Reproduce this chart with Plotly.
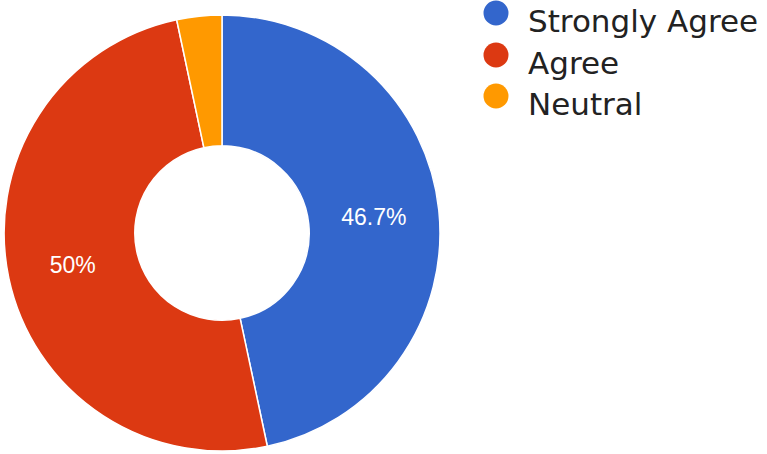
import plotly.graph_objects as go

categories = ["Strongly Agree", "Agree", "Neutral"]
values = [14, 15, 1]
colors = ["#3366CC", "#DC3912", "#FF9900"]
label_templates = ["%{percent}", "%{percent}", ""]

W, H = 767, 454

fig = go.Figure()
fig.add_trace(go.Pie(
    labels=categories,
    values=values,
    hole=0.4,
    sort=False,
    direction="clockwise",
    rotation=0,
    marker=dict(colors=colors, line=dict(color="white", width=1.5)),
    texttemplate=label_templates,
    textposition="inside",
    insidetextorientation="horizontal",
    textfont=dict(family="Liberation Sans, Arial, sans-serif", size=23, color="white"),
    showlegend=False,
    hoverinfo="label+percent",
    domain=dict(x=[3.5 / W, 440.5 / W], y=[1 - 451 / H, 1 - 15 / H]),
))

# custom legend with circle markers
cx, r = 496, 12.5
ys = [13, 55, 96]
shapes = []
annotations = []
for name, col, yc in zip(categories, colors, ys):
    shapes.append(dict(
        type="circle", xref="paper", yref="paper",
        x0=(cx - r) / W, x1=(cx + r) / W,
        y0=1 - (yc + r) / H, y1=1 - (yc - r) / H,
        fillcolor=col, line=dict(width=0),
    ))
    annotations.append(dict(
        text=name, xref="paper", yref="paper",
        x=526 / W, y=1 - (yc + 8) / H, xanchor="left", yanchor="middle",
        showarrow=False,
        font=dict(family="DejaVu Sans", size=31, color="#222222"),
    ))

fig.update_layout(
    width=W, height=H,
    margin=dict(l=0, r=0, t=0, b=0),
    paper_bgcolor="white",
    plot_bgcolor="white",
    shapes=shapes,
    annotations=annotations,
)

fig.write_html(
    "out.html",
    config={"displayModeBar": False},
    post_script="document.body.style.margin='0';document.body.style.overflow='hidden';",
)
